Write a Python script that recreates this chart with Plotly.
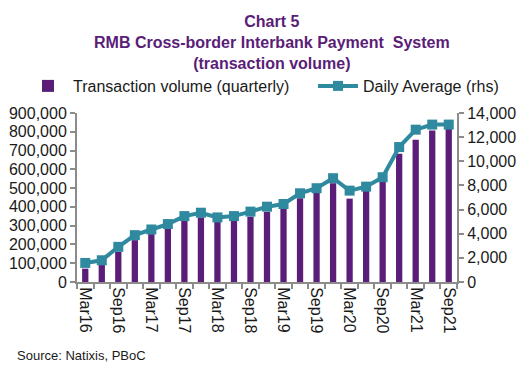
import plotly.graph_objects as go

quarters = ["Mar16", "Jun16", "Sep16", "Dec16", "Mar17", "Jun17", "Sep17", "Dec17",
            "Mar18", "Jun18", "Sep18", "Dec18", "Mar19", "Jun19", "Sep19", "Dec19",
            "Mar20", "Jun20", "Sep20", "Dec20", "Mar21", "Jun21", "Sep21"]
volume_quarterly = [71000, 94000, 160000, 223000, 255000, 285000, 326000, 344000,
                    321000, 326000, 348000, 374000, 392000, 446000, 476000, 526000,
                    444000, 490000, 544000, 683000, 758000, 807000, 820000]
daily_average = [1580, 1800, 2910, 3880, 4350, 4800, 5460, 5740,
                 5350, 5460, 5830, 6240, 6460, 7350, 7770, 8600,
                 7570, 7900, 8680, 11180, 12620, 13040, 13040]
left_ticks = list(range(0, 900001, 100000))
right_ticks = list(range(0, 14001, 2000))

xs = list(range(len(quarters)))
label_idx = [i for i, q in enumerate(quarters) if q.startswith(("Mar", "Sep"))]

PURPLE = "#5A1D78"
TEAL = "#2F8AA0"
GRAY = "#8C8C8C"
FONT = "Liberation Sans, Arial, sans-serif"

# page body adds an 8px offset; positions below are in figure pixels
OFF = 8
W, H = 525, 375
ML = 77 - OFF
MT = 113 - OFF
MR = W - (457 - OFF)
MB = H - (282 - OFF)
PW, PH = W - ML - MR, H - MT - MB


def px_x(x):
    return (x - OFF - ML) / PW


def px_y(y):
    return (H - MB - (y - OFF)) / PH


fig = go.Figure()
fig.add_trace(go.Bar(x=xs, y=volume_quarterly, name="Transaction volume (quarterly)",
                     marker=dict(color=PURPLE, line=dict(width=0)), yaxis="y",
                     legend="legend"))
fig.add_trace(go.Scatter(x=xs, y=daily_average, name="Daily Average (rhs)", yaxis="y2",
                         mode="lines+markers", line=dict(color=TEAL, width=4),
                         marker=dict(symbol="square", size=10, color=TEAL),
                         legend="legend2"))

leg_common = dict(orientation="h", xref="container", yref="container",
                  y=1 - (86 - OFF) / H,
                  xanchor="left", yanchor="middle", font=dict(size=16), itemwidth=40,
                  bgcolor="rgba(0,0,0,0)")

fig.update_layout(
    width=W, height=H,
    margin=dict(l=ML, r=MR, t=MT, b=MB, autoexpand=False),
    paper_bgcolor="white", plot_bgcolor="white",
    font=dict(family=FONT, size=16, color="#1a1a1a"),
    bargap=0.62,
    showlegend=True,
    legend=dict(x=(23 - OFF) / W, **leg_common),
    legend2=dict(x=(313 - OFF) / W, **leg_common),
    xaxis=dict(range=[-0.5, len(quarters) - 0.5], tickmode="array",
               tickvals=label_idx, ticktext=[quarters[i] for i in label_idx],
               ticks="", tickangle=90, showgrid=False, zeroline=False,
               showline=True, linecolor=GRAY, linewidth=2,
               minor=dict(tickmode="array", tickvals=[i - 0.5 for i in range(len(quarters) + 1)],
                          ticks="outside", ticklen=5, tickcolor=GRAY, tickwidth=2, showgrid=False)),
    yaxis=dict(range=[0, 900000], tickmode="array", tickvals=left_ticks,
               ticktext=[f"{v:,}" for v in left_ticks], ticks="outside", ticklen=5,
               tickcolor=GRAY, tickwidth=2, showline=True, linecolor=GRAY, linewidth=2,
               showgrid=False, zeroline=False),
    yaxis2=dict(range=[0, 14000], overlaying="y", side="right", tickmode="array",
                tickvals=right_ticks, ticktext=[f"{v:,}" for v in right_ticks],
                ticks="outside", ticklen=5, tickcolor=GRAY, tickwidth=2, showline=True,
                linecolor=GRAY, linewidth=2, showgrid=False, zeroline=False),
)
fig.add_annotation(text="<b>Chart 5<br>RMB Cross-border Interbank Payment  System<br>(transaction volume)</b>",
                   xref="paper", yref="paper", x=px_x(272), y=px_y(42),
                   xanchor="center", yanchor="middle", showarrow=False,
                   font=dict(size=16, color=PURPLE))
fig.add_annotation(text="Source: Natixis, PBoC", xref="paper", yref="paper",
                   x=px_x(15), y=px_y(355), xanchor="left", yanchor="middle",
                   showarrow=False, font=dict(size=13, color="#1a1a1a"))

fig.write_html("out.html")
